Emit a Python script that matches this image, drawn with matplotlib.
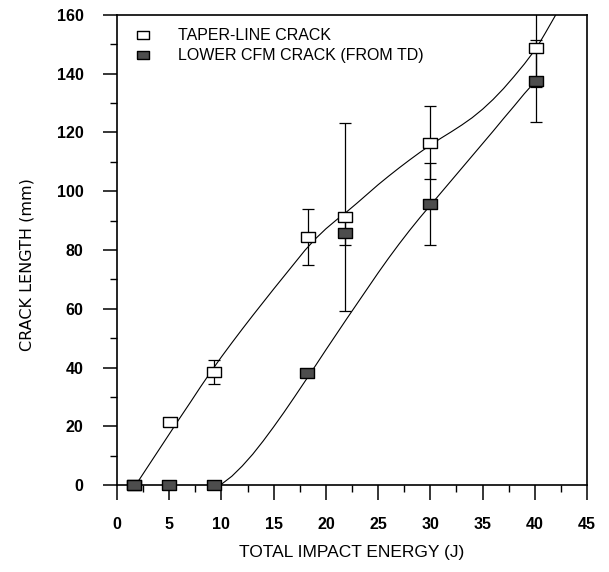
import numpy as np
import matplotlib
matplotlib.use('Agg')
from matplotlib import pyplot as plt
from matplotlib.lines import Line2D
from matplotlib.ticker import MultipleLocator

# puntos medidos
taper_x = [1.6, 5.1, 9.3, 18.3, 21.8, 30.0, 40.1]
taper_y = [0.0, 21.6, 38.6, 84.5, 91.1, 116.5, 148.6]
taper_err = [0.0, 0.0, 4.1, 9.5, 32.0, 12.5, 13.0]

lower_x = [1.6, 5.0, 9.3, 18.2, 21.8, 30.0, 40.1]
lower_y = [0.0, 0.0, 0.0, 38.0, 85.7, 95.6, 137.6]
lower_err = [0.0, 0.0, 0.0, 0.0, 4.0, 14.0, 14.0]

# curvas de ajuste (punto por punto)
taper_fit_x = [1.8, 3, 4, 5, 6, 7, 8, 9, 10, 11, 12, 13, 14, 15, 16, 17, 18,
               19, 20, 21, 22, 23, 24, 25, 26, 27, 28, 29, 30, 31, 32, 33, 34,
               35, 36, 37, 38, 39, 40, 40.5, 41, 41.5, 42]
taper_fit_y = [0.0, 6.5, 11.9, 17.3, 22.7, 28.0, 33.4, 38.6, 43.6, 48.4, 53.1,
               57.7, 62.2, 66.7, 71.1, 75.5, 79.9, 83.8, 87.2, 90.2, 93.0, 96.0,
               99.1, 102.2, 105.1, 107.9, 110.6, 113.2, 115.7, 118.0, 120.2,
               122.5, 125.0, 127.9, 131.2, 134.9, 139.0, 143.3, 148.0, 150.8,
               153.8, 156.9, 160.0]
lower_fit_x = [9.9, 11, 12, 13, 14, 15, 16, 17, 18, 19, 20, 21, 22, 23, 24, 25,
               26, 27, 28, 29, 30, 31, 32, 33, 34, 35, 36, 37, 38, 39, 40.1]
lower_fit_y = [0.0, 3.0, 6.5, 10.5, 15.0, 19.8, 24.8, 30.0, 35.3, 40.6, 46.0,
               51.3, 56.6, 61.8, 67.0, 72.2, 77.2, 82.0, 86.6, 91.0, 95.2, 99.4,
               103.6, 107.8, 112.0, 116.2, 120.4, 124.7, 128.9, 133.2, 137.6]

labels = ['TAPER-LINE CRACK', 'LOWER CFM CRACK (FROM TD)']

# rectangulo un poco mas ancho que alto
rect = [(-0.7, -0.5), (0.7, -0.5), (0.7, 0.5), (-0.7, 0.5), (-0.7, -0.5)]
fuente = ['Liberation Sans', 'DejaVu Sans']

fig = plt.figure(figsize=(6.09, 5.72), dpi=100)
ax = fig.add_axes([0.192, 0.152, 0.772, 0.822])

ax.plot(taper_fit_x, taper_fit_y, color='k', lw=0.8)
ax.plot(lower_fit_x, lower_fit_y, color='k', lw=0.8)

tx = [x for x, e in zip(taper_x, taper_err) if e > 0]
ty = [y for y, e in zip(taper_y, taper_err) if e > 0]
te = [e for e in taper_err if e > 0]
ax.errorbar(tx, ty, yerr=te, fmt='none', ecolor='k', elinewidth=0.9,
            capsize=4, capthick=0.9)
lx = [x for x, e in zip(lower_x, lower_err) if e > 0]
ly = [y for y, e in zip(lower_y, lower_err) if e > 0]
le = [e for e in lower_err if e > 0]
ax.errorbar(lx, ly, yerr=le, fmt='none', ecolor='k', elinewidth=0.9,
            capsize=4, capthick=0.9)

ax.plot(taper_x, taper_y, ls='none', marker=rect, ms=10, mfc='white',
        mec='k', mew=1.0, clip_on=False, zorder=4)
ax.plot(lower_x, lower_y, ls='none', marker=rect, ms=10, mfc='0.3',
        mec='k', mew=1.0, clip_on=False, zorder=5)

ax.set_xlim(0, 45)
ax.set_ylim(0, 160)
ax.xaxis.set_major_locator(MultipleLocator(5))
ax.xaxis.set_minor_locator(MultipleLocator(2.5))
ax.yaxis.set_major_locator(MultipleLocator(20))
ax.yaxis.set_minor_locator(MultipleLocator(10))
ax.tick_params(which='major', direction='out', length=11, width=1.1)
ax.tick_params(which='minor', direction='out', length=5, width=1.0)
ax.tick_params(axis='y', which='major', length=10, pad=14)
ax.tick_params(axis='x', which='major', pad=12)
for lab in ax.get_xticklabels() + ax.get_yticklabels():
    lab.set_fontsize(11.5)
    lab.set_fontweight('bold')
    lab.set_family(fuente)
for sp in ax.spines.values():
    sp.set_linewidth(1.2)

ax.set_xlabel('TOTAL IMPACT ENERGY (J)', fontsize=12.5, family=fuente,
              labelpad=9)
ax.set_ylabel('CRACK LENGTH (mm)', fontsize=11.5,
              family=['Liberation Sans Narrow', 'DejaVu Sans'])
ax.yaxis.set_label_coords(-0.175, 0.47)

handles = [Line2D([], [], ls='none', marker=rect, ms=8, mfc='white', mec='k'),
           Line2D([], [], ls='none', marker=rect, ms=8, mfc='0.3', mec='k')]
leg = ax.legend(handles, labels, loc='upper left', bbox_to_anchor=(0.025, 0.985),
                frameon=False, handlelength=1.0, handletextpad=1.7,
                labelspacing=0.3, borderaxespad=0,
                prop={'family': fuente, 'size': 11.5})

fig.savefig('out.png', dpi=100)
